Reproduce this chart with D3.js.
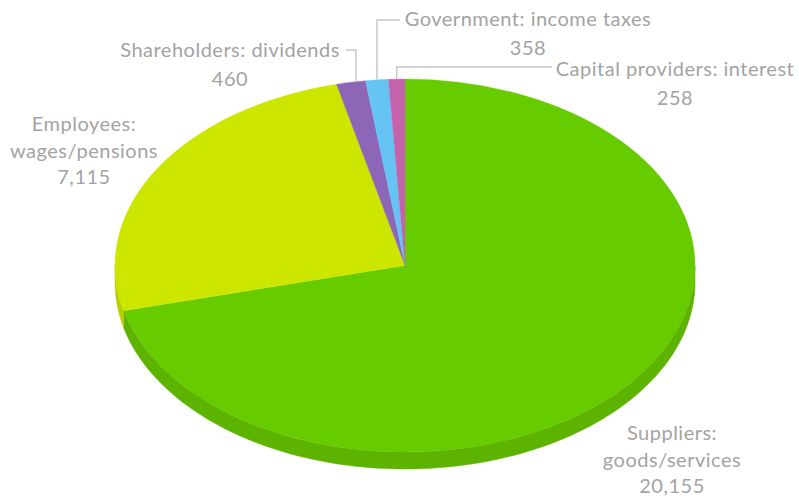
<!DOCTYPE html>
<html>
<head>
<meta charset="utf-8">
<script src="https://cdn.jsdelivr.net/npm/d3@7"></script>
<style>
  body { margin: 0; background: #fff; }
  #chart text { font-family: Lato, "Open Sans", sans-serif; font-size: 20px; letter-spacing: 0.5px; fill: #a3a3a3; }
</style>
</head>
<body>
<div id="chart"></div>
<script>
// Value distribution pie (3D-ish ellipse)
const categories = ["Suppliers", "Employees", "Shareholders", "Government", "Capital providers"];
const labelLines = [
    ["Suppliers:", "goods/services"],
    ["Employees:", "wages/pensions"],
    ["Shareholders: dividends"],
    ["Government: income taxes"],
    ["Capital providers: interest"]
];
const values = [20155, 7115, 460, 358, 258];
const colors = ["#66cc00", "#cce600", "#8e66b8", "#66c4f5", "#c462ab"];
const sideColors = ["#5cb300", "#b8cf00", "#7a55a0", "#55aee0", "#a85294"];

const width = 799, height = 499;
const cx = 405, cy = 265.5, rx = 290, ry = 186.5, depth = 17;

const svg = d3.select("#chart").append("svg")
    .attr("width", width)
    .attr("height", height);

const data = categories.map((c, i) => ({name: c, lines: labelLines[i], value: values[i], i: i}));

const pie = d3.pie().sort(null).value(d => d.value);
const arcs = pie(data);

const root = svg.append("g").attr("transform", `translate(${cx},${cy})`);

// side wall (only front half is visible: angles PI/2 .. 3PI/2)
const sideArea = d3.area()
    .x(t => rx * Math.sin(t))
    .y0(t => -ry * Math.cos(t))
    .y1(t => -ry * Math.cos(t) + depth);

arcs.forEach(a => {
    const s = Math.max(a.startAngle, Math.PI / 2);
    const e = Math.min(a.endAngle, Math.PI * 1.5);
    if (e <= s) return;
    const n = 120;
    const ts = d3.range(n + 1).map(k => s + (e - s) * k / n);
    root.append("path")
        .attr("d", sideArea(ts))
        .attr("fill", sideColors[a.data.i])
        .attr("stroke", sideColors[a.data.i])
        .attr("stroke-width", 0.5);
});

// top face: circular arc squashed to ellipse
const arc = d3.arc().innerRadius(0).outerRadius(rx);
root.append("g")
    .attr("transform", `scale(1,${ry / rx})`)
    .selectAll("path")
    .data(arcs)
    .enter()
    .append("path")
    .attr("d", arc)
    .attr("fill", d => colors[d.data.i])
    .attr("stroke", d => colors[d.data.i])
    .attr("stroke-width", 0.4);

// label layout: centre x, first baseline, optional leader elbow
const labelLayout = [
    {x: 672, y: 440},
    {x: 84, y: 131},
    {x: 230, y: 57, leader: {fromX: 346, y: 50, dx: 5}},
    {x: 528, y: 26, leader: {fromX: 400, y: 20, dx: 0}},
    {x: 675, y: 76, leader: {fromX: 552, y: 67, dx: 0}}
];
const lineGap = 26.5;
const fmt = d3.format(",");

arcs.forEach(a => {
    const L = labelLayout[a.data.i];
    const lines = a.data.lines.concat([fmt(a.data.value)]);
    const t = svg.append("text").attr("text-anchor", "middle");
    lines.forEach((ln, k) => {
        t.append("tspan")
            .attr("x", L.x)
            .attr("y", L.y + k * (k === lines.length - 1 && lines.length === 2 ? 28.5 : lineGap))
            .text(ln);
    });
    if (L.leader) {
        const mid = (a.startAngle + a.endAngle) / 2;
        const px = cx + rx * Math.sin(mid) + L.leader.dx;
        const py = cy - ry * Math.sqrt(1 - Math.pow((px - cx) / rx, 2));
        svg.append("path")
            .attr("d", `M${L.leader.fromX},${L.leader.y}H${px}V${py}`)
            .attr("fill", "none")
            .attr("stroke", "#c8c8c8")
            .attr("stroke-width", 1.5);
    }
});
</script>
</body>
</html>
